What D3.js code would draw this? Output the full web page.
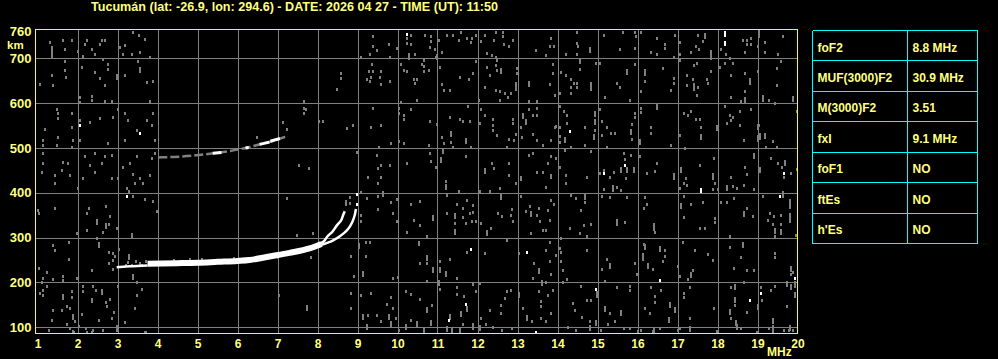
<!DOCTYPE html>
<html>
<head>
<meta charset="utf-8">
<script src="https://cdn.jsdelivr.net/npm/d3@7"></script>
<style>
  body { margin: 0; background: #000; }
  text { font-family: "Liberation Sans", Arial, sans-serif; font-weight: bold; }
</style>
</head>
<body>
<svg id="vis"></svg>
<script>
// ionogram Tucumán 2026-04-27 11:50 UT

var title = "Tucumán (lat: -26.9, lon: 294.6) - DATE: 2026 04 27 - TIME (UT): 11:50"
var freqTicks = d3.range(1, 21)
var heightTicks = [100, 200, 300, 400, 500, 600, 700, 760]
var gridHeights = [100, 200, 300, 400, 500, 600, 700]

var paramNames = ["foF2", "MUF(3000)F2", "M(3000)F2", "fxI", "foF1", "ftEs", "h'Es"]
var paramValues = ["8.8 MHz", "30.9 MHz", "3.51", "9.1 MHz", "NO", "NO", "NO"]

// F2 trace [MHz, km]
var f2Lead = [[2.98, 234], [3.3, 236], [3.75, 238]]
var f2Band = [[3.75, 242], [4.5, 243], [5.0, 244], [5.5, 246], [6.0, 248], [6.3, 250], [6.8, 258], [7.3, 266], [7.8, 276], [8.1, 286]]
var f2Ordinary = [[8.0, 283], [8.16, 292], [8.24, 302], [8.37, 313], [8.49, 328], [8.58, 337], [8.64, 350], [8.68, 359]]
var f2Extra = [[8.1, 284], [8.33, 291], [8.49, 299], [8.66, 310], [8.78, 321], [8.87, 335], [8.93, 350], [8.96, 364]]

// second hop
var f2Hop2 = [[4.02, 479], [4.4, 480], [4.9, 483], [5.4, 488], [5.8, 493], [6.2, 500], [6.6, 509], [6.9, 516], [7.1, 522], [7.25, 526]]
var hop2Strong = [
  [[5.38, 488], [5.6, 490]],
  [[6.2, 500], [6.28, 501]],
  [[6.55, 508], [6.8, 513]],
  [[6.82, 515], [7.06, 521]]
]

// scattered echoes [MHz, km, extent km]
var noiseLow = [
  [1.31,736],[1.35,726],[1.35,710,15],[1.64,740],[1.68,721],[1.85,740],[1.68,695],[1.68,673],[1.71,658],[1.35,662],[1.39,640],[1.06,643],[2.02,717],[1.48,586],[1.52,566],[1.5,577],[1.85,577],[1.85,547],[1.89,518],[1.18,543],[1.14,518],[1.52,525],[1.48,506],[1.14,506],[1.85,503],[1.14,488],[1.14,466],[1.1,447],[1.64,469],[1.77,466],[1.6,451],[1.43,440],[1.81,440],
  [2.23,740],[2.18,732],[2.35,721],[2.6,740],[2.68,740],[2.56,732],[2.43,710],[2.14,706],[2.64,699],[2.1,681],[2.43,669],[2.77,688],[2.77,677],[2.56,655],[2.68,640],[2.98,658,10],[2.06,614],[2.35,617],[2.35,606],[2.06,603],[2.68,605],[2.85,605],[2.06,562],[2.31,558],[2.56,566],[2.89,569],[2.06,518],[2.77,510],[2.18,481],[2.43,488],[2.31,462],[2.6,466],[2.43,447],[2.14,432],[2.85,432],[2.68,481],[2.85,484],
  [3.39,758],[3.54,753],[3.68,743],[3.18,729],[3.06,725],[3.14,710],[3.35,710],[3.56,714],[3.81,703],[3.52,695],[3.56,673,10],[3.18,662],[3.73,647],[3.89,649],[3.81,605],[3.18,577],[3.27,562],[3.02,586],[3.48,540],[3.73,562],[3.89,577],[3.85,551],[3.93,518],[3.18,518],[3.93,488],[3.85,477],[3.48,481],[3.31,466],[3.14,458],[3.39,443],[3.56,432],[3.81,440],[3.02,432],
  [6.48,525],[7.14,558],[7.23,543],
  [1.43,421],[1.02,361],[1.04,354],[1.43,367],[1.39,284],[1.43,273],[1.79,291],[1.79,253],[1.04,233],[1.24,224],[1.14,211],[1.39,207],[1.64,215],[1.64,206],[1.1,202],[1.99,211],[1.24,193],[1.14,184],[1.06,176],[1.14,171],[1.64,169,8],[1.85,180],[1.85,167],[1.74,147],[1.39,139],[1.6,139],[1.81,143],[1.89,122,10],[1.35,117],[1.74,107],[1.81,98],[1.29,95],[1.93,113],
  [2.02,411],[2.29,367],[2.24,354],[2.49,334,10],[2.7,371],[2.81,349],[2.71,326,10],[2.79,330],[2.64,313],[2.99,322],[2.24,317],[2.49,300],[2.54,285,8],[1.99,310],[2.35,228],[2.79,269],[2.89,265],[2.94,260],[2.89,250],[2.79,243],[2.89,230],[3.04,274],[2.14,193],[2.14,181],[2.39,193],[2.46,184],[2.6,179,8],[2.35,163],[2.35,159],[2.81,164],[2.7,156],[2.74,147],[2.91,134],[2.85,121],[2.54,117],[2.1,130],[2.04,102],[2.21,98],[2.39,93],[2.64,95],[2.99,98,8],[3.02,193],
  [3.24,411],[3.39,393],[3.29,404],[3.43,421],[3.64,421],[3.68,386],[3.89,381],[3.99,359],[3.35,302,10],[3.29,258,8],[3.39,213,8],[3.49,202],[3.6,186],[3.49,171],[3.43,143],[3.18,112],[3.02,98],[3.68,90],
  [3.27,246],[3.35,240],[3.45,248],[3.55,244],[3.62,238],[3.7,248],[3.2,240],[4.4,251],[4.8,252],[5.1,252],[5.9,254],[7.0,256],
  [7.24,389],[7.04,171],
  [1.28,95],[1.89,91],[1.92,89],[2.24,89],[2.35,89],[2.99,95],[3.7,89]
]

var noiseMid = [
  [7.66,605],[7.66,590],[7.7,586],[7.66,578],[8.03,561],[8.14,561],[7.53,462],[7.78,455],
  [8.58,667],[8.59,655],[8.49,631],[8.74,544],[8.89,551],
  [9.39,749],[9.78,732],[9.39,727],[9.49,718],[9.32,709],[9.09,704],[9.8,704],[9.37,688],[9.28,672],[9.39,672],[9.59,672],[9.34,658],[9.56,658],[9.24,653],[9.3,650],[9.8,650],[9.59,642],[9.39,590],[9.59,551],[9.34,547],[9.83,512],[9.53,503],[9.49,484],[9.59,462],[9.8,462],[9.51,455],[9.26,436],[9.59,436],[8.99,490],
  [10.34,751],[10.24,746],[10.24,734],[10.34,731],[9.99,724],[10.28,703,12],[10.45,709],[10.66,697],[10.7,753],[10.83,749],[10.83,738],[10.81,725],[10.93,721],[10.99,703,10],[10.95,704],[11.03,740],[10.09,688],[10.16,675],[10.24,672],[10.62,688],[10.66,682],[10.66,672],[10.78,675],[10.41,653],[10.49,653],[10.45,645],[10.09,603],[10.49,607],[10.03,590],[10.34,586],[10.03,578],[10.16,573],[10.16,564],[10.81,561],[10.99,553],[10.03,516],[10.16,512],[10.78,507],[10.24,467],[10.81,488],[10.84,472],[10.95,458],
  [11.24,753],[11.39,753],[11.59,758],[11.53,741],[11.74,746],[11.87,746],[11.84,736],[11.95,753],[11.12,714],[11.06,681],[11.12,642],[11.16,630],[11.31,630],[11.56,658],[11.78,653],[11.89,667],[11.95,695],[11.76,593],[11.31,568],[11.56,564],[11.64,561],[11.81,561],[11.12,524],[11.34,531,10],[11.34,514],[11.16,512],[11.39,503],[11.7,514,10],[11.84,503],[11.14,492,10],[11.09,473,10],[11.7,481],[11.2,427],
  [12.09,738],[12.2,753],[12.45,758],[12.64,758],[12.64,749],[12.41,740],[12.66,731],[12.78,727],[12.89,740],[12.24,712],[12.45,703],[12.49,697],[12.37,707],[12.24,681],[12.45,684],[12.49,675],[12.59,672,8],[12.31,662],[12.2,635],[12.45,630],[12.56,627],[12.7,623],[12.83,623],[12.95,637,16],[12.76,614],[12.56,608],[12.03,608],[12.09,586],[12.2,573],[12.39,564],[12.39,551],[12.39,541],[12.49,529],[12.06,556],[12.78,521],[12.89,564],[12.89,555],[13.08,547],[12.95,532],[12.91,518],[12.74,503],[12.2,447,10],[12.37,466],[12.41,455],[12.78,466],[12.78,440],[13.09,436],
  [13.45,718],[13.28,644,8],[12.99,679],[12.99,667],[13.28,605],[13.49,605],[13.28,586],[13.49,590],[13.14,571,8],[13.2,558,8],[13.39,573],[13.49,573],[13.12,525],[13.39,532],[13.49,518],[13.64,507],[13.28,484],[13.39,488],[13.49,447],[13.64,447],[13.09,430],
  [7.49,306],[7.89,310],[7.84,256],[7.74,144,8],
  [8.81,391],[8.7,376,10],[8.81,378],[8.84,260],[8.84,176],[8.84,143],[8.91,215],
  [9.09,402],[9.24,389],[9.51,421],[9.51,393],[9.64,396,10],[9.84,380],[9.51,364],[9.09,350],[9.09,337],[9.89,354],[9.2,291],[9.31,291],[9.03,280,10],[9.2,260],[9.14,218,10],[9.89,211],[9.09,171],[9.34,176],[9.84,167],[9.74,152],[9.89,144],[9.14,122,10],[9.26,128],[9.49,128],[9.59,113],[9.78,122,10],[9.95,121],[9.23,100,10],[9.84,106,10],
  [9.99,386],[10.34,376],[10.56,381],[9.99,337],[10.41,339],[10.56,328],[10.24,313],[10.74,304],[10.89,344,10],[10.53,287,6],[10.74,254,10],[10.56,243],[10.74,243],[10.89,228,10],[10.74,204],[10.01,213],[10.2,180],[10.33,174],[10.56,164],[10.74,137,10],[10.87,150],[10.33,117],[10.49,107,10],[10.2,100,10],[10.66,93,10],[10.83,110,10],[10.03,93],
  [11.2,413,10],[11.24,396],[11.53,404],[11.49,376],[11.64,367],[11.74,384],[11.89,373],[11.89,358],[11.81,354],[11.64,347],[11.45,347,10],[11.24,354],[11.45,332],[11.7,332],[11.87,337],[11.95,337],[11.45,313,10],[11.74,269],[11.31,252],[11.06,247],[11.06,228,10],[11.2,218,10],[11.49,211],[11.03,198,10],[11.06,186],[11.49,189],[11.49,174],[11.89,196],[11.95,180],[11.66,169],[11.74,141,10],[11.59,130,10],[11.31,122,10],[11.64,107],[11.89,107],[11.24,95,10],[11.37,93,10],[11.57,93,10],[11.89,100,10],
  [12.06,404],[12.31,404],[12.56,410],[12.59,389,10],[12.08,332],[12.24,310,10],[12.34,322],[12.51,354],[12.62,349],[12.87,364],[12.84,350],[12.89,337],[12.74,295],[12.2,265],[13.03,265],[12.06,198],[12.74,180],[12.83,184],[12.7,165],[13.03,171,10],[12.59,149],[12.59,132],[12.31,139],[12.08,121],[12.22,107],[12.39,100],[12.06,98,10],[12.62,93],[12.87,98],
  [12.95,421],[13.09,393],[13.31,371],[13.53,365],[13.34,352,10],[13.2,359],[13.49,350],[13.56,336],[13.64,317],[13.33,310],[13.41,243],[13.53,226,10],[13.39,210],[13.62,198,10],[13.53,181],[13.59,158],[13.59,147],[13.14,143],[13.24,121,10],[13.37,113],[13.59,121]
]

var noiseHigh = [
  [13.84,746],[13.8,727],[13.91,727],[13.72,707],[13.88,688],[13.88,667],[13.8,643],[13.93,618],[13.93,547],[13.97,549],[13.84,518],[13.84,481],[13.76,466],[13.97,477],[13.84,436],
  [14.49,758],[14.49,734],[14.51,727],[14.49,709],[14.22,709],[14.8,719,10],[14.55,694,8],[14.55,677],[14.09,669],[14.22,662],[14.34,653],[14.41,645],[14.49,645],[14.34,635],[14.49,635],[14.84,638,16],[14.34,623],[14.05,623],[14.97,690],[14.05,593],[14.16,583],[14.24,573],[14.24,556],[14.05,547],[14.05,526],[14.19,518,8],[14.05,514],[14.34,503],[14.69,547],[14.69,507],[14.93,577,8],[14.93,558,8],[14.93,541],[14.91,526,8],[14.84,494],[14.18,495],[14.05,458],[14.22,440],[13.83,440],[14.74,436],
  [15.16,753],[15.55,721],[15.63,758],[15.94,758],[15.97,749],[15.94,724],[15.05,690],[15.94,688],[15.74,669,8],[15.49,645],[15.55,635],[15.19,614],[15.8,608],[15.05,586],[15.11,561],[15.24,547],[15.34,534],[15.44,534],[15.84,536,10],[15.86,553],[15.94,578],[15.94,568],[15.11,529],[15.24,503],[15.86,521],[15.66,489],[15.84,484],[15.69,475],[15.16,451],[15.3,436],[15.41,447],[15.59,451,8],[15.74,451,10],[15.91,451,8],[15.72,432],[15.05,444],
  [16.09,758],[16.49,746],[16.69,731],[16.69,724],[16.34,714],[16.49,709],[16.91,704],[16.94,753],[16.19,667,12],[16.63,679],[16.19,650],[16.91,655],[16.91,645],[16.84,630],[16.09,627],[16.49,590,10],[16.09,590],[16.09,581],[16.34,547],[16.34,534],[16.05,514,8],[16.84,507],[16.05,481],[16.49,467],[16.44,449],[16.24,445],[16.91,436,12],
  [17.51,753],[17.69,749,10],[17.63,738],[17.05,736],[17.47,727],[17.53,721],[17.34,714],[17.84,707,18],[17.05,709],[17.05,697],[17.49,690],[17.41,684],[17.84,672],[17.24,662],[17.38,653],[17.74,653],[17.76,645],[17.24,640],[17.41,636,14],[17.51,636],[17.49,618],[17.16,578],[17.34,583],[17.26,573],[17.47,564],[17.55,564],[17.59,547],[17.59,526,8],[17.99,546,8],[17.05,529],[17.18,501],[17.55,462],[17.91,477],[17.88,436,12],[17.09,451,8],[17.22,432],
  [18.09,721],[18.22,710],[18.3,701],[18.65,740],[18.74,740],[18.84,746],[18.74,731],[18.84,731],[18.69,714],[19.0,727],[18.18,690],[18.38,690],[18.05,681],[18.34,662],[18.69,667],[18.8,647,12],[19.0,672],[18.34,614],[18.59,605],[18.69,607,8],[18.69,627],[18.18,593],[18.3,573],[18.38,568],[18.55,583],[18.34,562],[18.24,556],[18.55,551],[18.84,586],[19.0,547,10],[18.66,518],[19.0,521,12],[18.91,482,8],[18.68,457],[18.74,442],[18.34,436],
  [19.03,753,14],[19.19,736],[19.19,714],[19.51,709],[19.63,749],[19.59,695],[19.49,679],[19.49,640],[19.13,610,12],[19.28,608],[19.44,600],[19.88,608,10],[19.03,551],[19.19,532],[19.19,525],[19.05,526,12],[19.38,516],[19.22,503],[19.49,503],[19.99,583],[19.34,477],[19.51,467],[19.69,466,10],[19.61,458],[19.66,436],[19.84,445],[19.99,452],[19.05,451,10],
  [13.72,413],[13.84,384],[13.91,376],[13.76,361],[13.8,339],[13.72,317],[13.8,291],[13.72,273],[14.05,276],[14.08,267],[13.97,261],[13.8,247],[13.84,219],[13.72,202],[13.88,184],[13.76,172],[13.84,132],[13.72,113],
  [14.22,421],[14.34,396],[14.47,389],[14.69,391,8],[14.69,380],[14.59,361],[14.3,322],[14.66,328],[14.84,330],[14.55,310],[14.74,304],[14.09,300],[14.74,273],[14.09,247],[14.13,228],[14.24,208],[14.13,202],[14.59,193],[14.99,172,12],[14.74,161],[14.84,161],[14.38,154],[14.44,139],[14.61,124],[14.8,115],[14.97,110,10],[14.26,100],[14.47,95],[14.8,98,10],
  [15.16,408],[15.38,410,12],[15.49,413],[15.59,406],[15.3,391],[15.11,393],[15.74,391],[15.49,334,12],[15.69,335],[15.24,253],[15.3,236,10],[15.11,230],[15.94,243],[15.19,204],[15.8,193],[15.8,184],[15.49,189],[15.19,141,10],[15.3,132],[15.58,132,10],[15.43,115],[15.26,107],[15.67,98],[15.8,98],[15.08,95],
  [16.19,391],[16.16,367],[16.24,376],[16.41,324,14],[16.44,313],[16.16,285],[16.19,280,8],[16.55,273,10],[16.69,273],[16.13,256,14],[16.26,236,10],[16.38,230],[16.68,258],[16.63,247],[15.99,219],[16.34,189],[16.59,184],[16.44,169],[16.44,156],[16.8,150,10],[16.94,139,10],[16.78,115,10],[16.41,93,10],[16.55,98],[16.09,95],[16.19,144],[16.3,132],
  [17.16,421],[17.05,410],[17.24,418],[17.16,393],[17.09,371,10],[17.34,376],[17.63,380],[17.94,421],[17.88,408],[17.16,347],[17.55,322],[17.68,322],[17.94,344],[17.94,335],[17.13,291],[17.43,273],[17.76,263],[17.88,250],[17.38,228],[17.34,217,8],[17.26,208],[17.05,215],[17.01,236],[17.16,176],[17.3,189],[17.16,167],[17.91,143],[17.3,121],[17.3,95,10],[17.05,98],
  [18.01,408],[18.24,410,10],[18.38,415],[18.49,410],[18.66,418],[18.91,408],[18.09,380],[18.24,380],[18.41,389],[18.74,367],[18.66,352,10],[18.88,349],[18.3,304],[18.63,284,8],[18.3,278],[18.59,256],[18.41,233],[18.74,228],[18.91,228],[18.66,202],[18.44,189,10],[18.34,189],[18.44,161,10],[18.44,149],[18.3,134,10],[18.33,121],[18.47,110,10],[18.59,98],[18.49,100,10],[18.74,134],
  [19.13,393],[19.63,395,12],[19.8,376,18],[19.8,343,18],[19.3,356],[19.41,349],[19.59,350],[19.26,339],[19.38,330],[19.59,330],[19.43,315,10],[19.59,312,10],[19.44,304],[19.97,306],[19.44,265],[19.44,256],[19.84,230,10],[19.88,224],[19.84,219],[19.94,195,12],[19.84,189,10],[19.74,195,10],[19.43,193],[19.34,184],[19.09,189],[19.11,161],[19.0,144,10],[19.74,147],[19.94,171,10],[19.38,113,10],[19.38,98,10],[19.28,98],[19.8,98,10],[19.88,95],[19.66,93],[19.94,174],
  [16.02,91],[16.39,91],[17.02,93],[17.99,92],[18.98,89],[19.38,91],[19.79,95]
]

var strongDots = [
  [2.06,551],[3.56,534],[3.24,393],[10.24,755],[14.3,538],[15.69,462],[15.16,445],[18.19,753,10],[18.19,734,6],
  [11.84,274],[11.7,152],[11.28,117],[13.24,269],[13.45,90],[19.66,445],[19.55,393],[17.59,406,6],
  [16.55,206],[14.97,186],[19.94,211],[19.09,176],[18.8,161],[8.99,376],[8.99,398]
]

var width = 998, height = 359
var plot = { left: 35.5, right: 797.5, top: 29.5, bottom: 333.5 }

var svg = d3.select("#vis")
  .attr("width", width)
  .attr("height", height)
  .style("background", "#000")

var xScale = d3.scaleLinear().domain([1, 20]).range([37.5, 797.5])
var yScale = d3.scaleLinear().domain([100, 700]).range([327.3, 58.3])

svg.append("defs").append("clipPath").attr("id", "plotclip")
  .append("rect")
  .attr("x", plot.left).attr("y", plot.top)
  .attr("width", plot.right - plot.left).attr("height", plot.bottom - plot.top)

// grid
var grid = svg.append("g").attr("stroke", "#808080").attr("stroke-width", 1).attr("shape-rendering", "crispEdges")
grid.selectAll("line.v").data(freqTicks.slice(1, -1)).join("line")
  .attr("x1", d => Math.round(xScale(d)) + 0.5).attr("x2", d => Math.round(xScale(d)) + 0.5)
  .attr("y1", plot.top).attr("y2", plot.bottom)
grid.selectAll("line.h").data(gridHeights).join("line")
  .attr("y1", d => Math.round(yScale(d)) + 0.5).attr("y2", d => Math.round(yScale(d)) + 0.5)
  .attr("x1", plot.left).attr("x2", plot.right)

var echoes = svg.append("g").attr("clip-path", "url(#plotclip)")

function drawDots(data, color) {
  echoes.append("g").attr("shape-rendering", "crispEdges")
    .selectAll("rect").data(data).join("rect")
    .attr("x", d => Math.round(xScale(d[0])) - 1)
    .attr("y", d => Math.round(yScale(d[1] + (d[2] || 0) / 2)) - 1)
    .attr("width", 2)
    .attr("height", d => Math.max(3, Math.round(yScale(d[1] - (d[2] || 0) / 2) - yScale(d[1] + (d[2] || 0) / 2)) + 2))
    .attr("fill", color)
}

drawDots(noiseLow, "#808080")
drawDots(noiseMid, "#808080")
drawDots(noiseHigh, "#808080")
drawDots(strongDots, "#ffffff")

var line = d3.line()
  .x(d => xScale(d[0]))
  .y(d => yScale(d[1]))
  .curve(d3.curveMonotoneY)

var lineX = d3.line()
  .x(d => xScale(d[0]))
  .y(d => yScale(d[1]))
  .curve(d3.curveMonotoneX)

echoes.append("path").datum(f2Hop2).attr("d", lineX)
  .attr("fill", "none").attr("stroke", "#808080").attr("stroke-width", 2.5).attr("stroke-dasharray", "9,3")
hop2Strong.forEach(function (seg) {
  echoes.append("path").datum(seg).attr("d", lineX)
    .attr("fill", "none").attr("stroke", "#fff").attr("stroke-width", 3)
})

echoes.append("path").datum(f2Lead).attr("d", lineX)
  .attr("fill", "none").attr("stroke", "#fff").attr("stroke-width", 2.5)
echoes.append("path").datum(f2Band).attr("d", lineX)
  .attr("fill", "none").attr("stroke", "#fff").attr("stroke-width", 6)
echoes.append("path").datum(f2Ordinary).attr("d", line)
  .attr("fill", "none").attr("stroke", "#fff").attr("stroke-width", 2.5)
echoes.append("path").datum(f2Extra).attr("d", line)
  .attr("fill", "none").attr("stroke", "#fff").attr("stroke-width", 2.5)

// frame
svg.append("rect")
  .attr("x", plot.left).attr("y", plot.top)
  .attr("width", plot.right - plot.left).attr("height", plot.bottom - plot.top)
  .attr("fill", "none").attr("stroke", "#ffff00").attr("stroke-width", 1)

// axes
var xAxis = svg.append("g")
  .attr("transform", `translate(0,${plot.bottom})`)
  .call(d3.axisBottom(xScale).tickValues(freqTicks).tickSize(0).tickPadding(6).tickFormat(d3.format("d")))
xAxis.select(".domain").remove()
xAxis.selectAll("text").attr("fill", "#ffff80").style("font-size", "12px").attr("dy", "0.71em")

var yAxis = svg.append("g")
  .attr("transform", `translate(${plot.left},0)`)
  .call(d3.axisLeft(yScale).tickValues(heightTicks).tickSize(0).tickPadding(4).tickFormat(d3.format("d")))
yAxis.select(".domain").remove()
yAxis.selectAll("text").attr("fill", "#ffff80").style("font-size", "13px")

svg.append("text").attr("x", 7).attr("y", 49).text("km")
  .attr("fill", "#ffff80").style("font-size", "11.5px")
svg.append("text").attr("x", 767).attr("y", 355.5).text("MHz")
  .attr("fill", "#ffff80").style("font-size", "12px")

svg.append("text").attr("x", 91).attr("y", 11).text(title)
  .attr("fill", "#ffff80").style("font-size", "12px")
  .attr("textLength", 407).attr("lengthAdjust", "spacingAndGlyphs")

// parameter table
var table = { left: 812.5, mid: 907.5, right: 977.5, top: 30.5, row: 30.45 }
var tg = svg.append("g")
var rowScale = d3.scaleLinear().domain([0, paramNames.length]).range([table.top, table.top + table.row * paramNames.length])

tg.selectAll("line.row").data(d3.range(paramNames.length + 1)).join("line")
  .attr("x1", table.left).attr("x2", table.right)
  .attr("y1", d => Math.round(rowScale(d) - 0.5) + 0.5).attr("y2", d => Math.round(rowScale(d) - 0.5) + 0.5)
  .attr("stroke", "#00ffff").attr("shape-rendering", "crispEdges")
tg.selectAll("line.col").data([table.left, table.mid, table.right]).join("line")
  .attr("x1", d => d).attr("x2", d => d)
  .attr("y1", table.top).attr("y2", Math.round(rowScale(paramNames.length) - 0.5) + 0.5)
  .attr("stroke", "#00ffff").attr("shape-rendering", "crispEdges")

tg.selectAll("text.name").data(paramNames).join("text")
  .attr("x", table.left + 5)
  .attr("y", (d, i) => rowScale(i) + 21)
  .text(d => d).attr("fill", "#ffff80").style("font-size", "12px")
tg.selectAll("text.val").data(paramValues).join("text")
  .attr("x", table.mid + 5)
  .attr("y", (d, i) => rowScale(i) + 21)
  .text(d => d).attr("fill", "#ffff80").style("font-size", "12px")
</script>
</body>
</html>
